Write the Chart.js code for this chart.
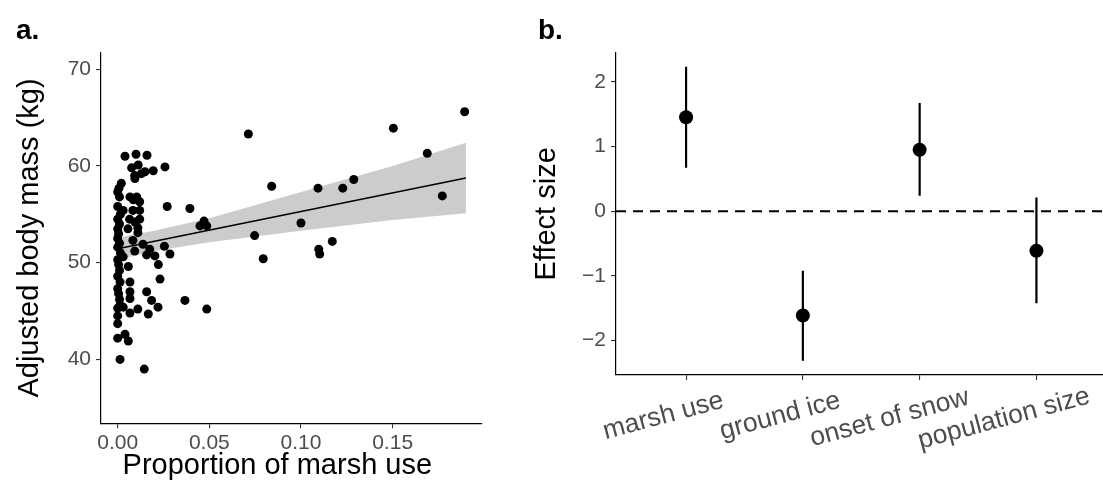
<!DOCTYPE html>
<html>
<head>
<meta charset="utf-8">
<script src="https://cdn.jsdelivr.net/npm/chart.js@4.4.0/dist/chart.umd.min.js"></script>
<style>
  body { margin:0; background:#fff; width:1103px; height:502px; position:relative; overflow:hidden;
         font-family:"Liberation Sans", Arial, sans-serif; }
  canvas { position:absolute; top:0; }
  #cA { left:0; }
  #cB { left:520px; }
  .tag { position:absolute; font-weight:bold; font-size:28px; line-height:1; color:#000; }
</style>
</head>
<body>
<canvas id="cA" width="520" height="502"></canvas>
<canvas id="cB" width="583" height="502"></canvas>
<div class="tag" style="left:16px;top:16px">a.</div>
<div class="tag" style="left:538px;top:16px">b.</div>
<script>
// panel a: proportion of marsh use vs adjusted body mass
const marshProp = [
  0.000, 0.001, 0.000, 0.0015, 0.000, 0.001, 0.000, 0.0005, 0.000, 0.001,
  0.000, 0.0015, 0.000, 0.0005, 0.001, 0.000, 0.0013, 0.000, 0.0005, 0.001,
  0.0013, 0.000, 0.000, 0.000, 0.000, 0.0013, 0.0007, 0.002,
  0.004, 0.010, 0.016, 0.0076, 0.0112, 0.0149, 0.0194, 0.0258, 0.0093, 0.0129,
  0.0094, 0.0067, 0.0104, 0.0085, 0.012, 0.027, 0.003, 0.0083, 0.012, 0.0065,
  0.012, 0.0094, 0.0056, 0.011, 0.011, 0.0083, 0.0138, 0.0093, 0.0175, 0.0255,
  0.003, 0.0158, 0.0203, 0.0285, 0.0222, 0.0058, 0.0067, 0.0231, 0.0067, 0.0158,
  0.0067, 0.0185, 0.0367, 0.011, 0.022, 0.003, 0.0067, 0.0167, 0.004, 0.0058,
  0.0145,
  0.0713, 0.1504, 0.1893, 0.1689, 0.0840, 0.1093, 0.1228, 0.1288, 0.1771, 0.0394,
  0.0471, 0.0449, 0.0486, 0.1000, 0.0747, 0.0794, 0.1097, 0.1102, 0.1171, 0.0486
];
const bodyMass = [
  57.3, 56.8, 55.8, 55.0, 54.5, 54.0, 53.5, 53.0, 52.5, 52.0,
  51.6, 51.0, 50.3, 49.8, 49.2, 48.6, 48.0, 47.3, 46.8, 46.2,
  45.6, 45.3, 44.5, 43.7, 42.2, 40.0, 57.7, 58.2,
  61.0, 61.2, 61.1, 59.8, 60.1, 59.4, 59.5, 59.9, 59.0, 59.2,
  58.7, 56.8, 56.8, 56.5, 56.3, 55.8, 55.4, 55.4, 55.4, 54.5,
  54.5, 54.2, 53.5, 53.6, 53.1, 52.3, 51.9, 51.2, 51.4, 51.7,
  50.6, 50.8, 50.7, 50.9, 49.8, 49.6, 48.0, 48.3, 47.0, 47.0,
  46.3, 46.1, 46.1, 45.2, 45.4, 45.4, 44.8, 44.7, 42.6, 41.9,
  39.0,
  63.3, 63.9, 65.6, 61.3, 57.9, 57.7, 57.7, 58.6, 56.9, 55.6,
  54.3, 53.8, 53.8, 54.1, 52.8, 50.4, 51.4, 50.9, 52.2, 45.2
];
// fitted line and its confidence band
const fitX = [0, 0.19];
const fitY = [51.45, 58.75];
const bandX = [0, 0.02, 0.05, 0.10, 0.15, 0.19];
const bandLo = [50.3, 51.2, 52.1, 53.3, 54.4, 55.1];
const bandHi = [52.6, 53.3, 54.6, 57.3, 60.0, 62.4];
const xTicksA = [0, 0.05, 0.10, 0.15];
const yTicksA = [40, 50, 60, 70];
const xTitleA = 'Proportion of marsh use';

// panel b: effect sizes
const effectLabels = ['marsh use', 'ground ice', 'onset of snow', 'population size'];
const effectEst = [1.45, -1.61, 0.95, -0.61];
const effectLo = [0.67, -2.31, 0.24, -1.42];
const effectHi = [2.23, -0.92, 1.67, 0.21];
const yTicksB = [-2, -1, 0, 1, 2];

Chart.defaults.font.family = '"Liberation Sans", Arial, sans-serif';
Chart.defaults.animation = false;

function axisStyle(ticks, fmt, pad) {
  return {
    grid: { display:true, drawOnChartArea:false, drawTicks:true, tickLength:5, color:'#333', lineWidth:1.1 },
    border: { display:true, color:'#000', width:1.2 },
    ticks: { color:'#4D4D4D', font:{ size:21 }, padding:pad, autoSkip:false, maxRotation:0, callback: fmt },
    afterBuildTicks: s => { s.ticks = ticks.map(v => ({ value:v })); }
  };
}

const noLegend = { legend:{ display:false }, tooltip:{ enabled:false } };

// x title of panel a sits a little left of the panel centre in the original
const xTitle = {
  id: 'xTitle',
  afterDraw(chart) {
    const { ctx, chartArea:a } = chart;
    ctx.save();
    ctx.font = '29px "Liberation Sans", Arial, sans-serif';
    ctx.fillStyle = '#000'; ctx.textAlign = 'center'; ctx.textBaseline = 'middle';
    ctx.fillText(xTitleA, (a.left + a.right) / 2 - 14, 466);
    ctx.restore();
  }
};

new Chart(document.getElementById('cA'), {
  type: 'scatter',
  data: { datasets: [
    { data: marshProp.map((x, i) => ({ x, y: bodyMass[i] })), pointRadius:4.5, backgroundColor:'#000', borderWidth:0, order:0 },
    { data: fitX.map((x, i) => ({ x, y: fitY[i] })), showLine:true, borderColor:'#000', borderWidth:1.5, pointRadius:0, order:1 },
    { data: bandX.map((x, i) => ({ x, y: bandHi[i] })), showLine:true, borderColor:'rgba(0,0,0,0)', borderWidth:0,
      pointRadius:0, fill:'+1', backgroundColor:'#CCCCCC', order:2 },
    { data: bandX.map((x, i) => ({ x, y: bandLo[i] })), showLine:true, borderColor:'rgba(0,0,0,0)', borderWidth:0,
      pointRadius:0, fill:false, order:3 }
  ]},
  options: {
    responsive:false, devicePixelRatio:1,
    layout: { autoPadding:false, padding:{ top:52.7, right:38.3, left:0, bottom:0 } },
    plugins: noLegend,
    scales: {
      x: { type:'linear', min:-0.0091, max:0.1986, ...axisStyle(xTicksA, v => v.toFixed(2), 2),
           afterFit: s => { s.height = 78.7; s.paddingLeft = 0; s.paddingRight = 0; } },
      y: { type:'linear', min:33.4, max:71.7, ...axisStyle(yTicksA, v => String(v), 5),
           title:{ display:true, text:'Adjusted body mass (kg)', color:'#000', font:{ size:29 }, padding:{ top:13, bottom:0 } },
           afterFit: s => { s.width = 101; } }
    }
  },
  plugins: [xTitle]
});

const zeroLine = {
  id: 'zeroLine',
  beforeDatasetsDraw(chart) {
    const { ctx, chartArea:a, scales:{ y } } = chart;
    const py = y.getPixelForValue(0);
    ctx.save();
    ctx.strokeStyle = '#000'; ctx.lineWidth = 2; ctx.setLineDash([10, 7]);
    ctx.beginPath(); ctx.moveTo(a.left, py); ctx.lineTo(a.right, py); ctx.stroke();
    ctx.restore();
  }
};

const slantLabels = {
  id: 'slantLabels',
  afterDraw(chart) {
    const { ctx, scales:{ x } } = chart;
    ctx.save();
    ctx.font = '26.5px "Liberation Sans", Arial, sans-serif';
    ctx.fillStyle = '#4D4D4D'; ctx.textBaseline = 'middle'; ctx.textAlign = 'left';
    effectLabels.forEach((t, i) => {
      const w = ctx.measureText(t).width;
      ctx.save();
      ctx.translate(x.getPixelForValue(i + 1), 410);
      ctx.rotate(-15 * Math.PI / 180);
      ctx.fillText(t, -0.69 * w, 0);
      ctx.restore();
    });
    ctx.restore();
  }
};

const barData = [];
effectLo.forEach((lo, i) => {
  barData.push({ x:i + 1, y:lo }, { x:i + 1, y:effectHi[i] }, { x:i + 1, y:null });
});

new Chart(document.getElementById('cB'), {
  type: 'scatter',
  data: { datasets: [
    { data: effectEst.map((y, i) => ({ x:i + 1, y })), pointRadius:7, backgroundColor:'#000', borderWidth:0, order:0 },
    { data: barData, showLine:true, spanGaps:false, borderColor:'#000', borderWidth:2.2, pointRadius:0, order:1 }
  ]},
  options: {
    responsive:false, devicePixelRatio:1,
    layout: { autoPadding:false, padding:{ top:52.7, right:0, left:0, bottom:0 } },
    plugins: noLegend,
    scales: {
      x: { type:'linear', min:0.4, max:4.57, ...axisStyle([1, 2, 3, 4], () => '', 5),
           afterFit: s => { s.height = 127; s.paddingLeft = 0; s.paddingRight = 0; } },
      y: { type:'linear', min:-2.53, max:2.448, ...axisStyle(yTicksB, v => v < 0 ? '\u2212' + Math.abs(v) : String(v), 5),
           title:{ display:true, text:'Effect size', color:'#000', font:{ size:29 }, padding:{ top:10, bottom:0 } },
           afterFit: s => { s.width = 96; } }
    }
  },
  plugins: [zeroLine, slantLabels]
});
</script>
</body>
</html>
